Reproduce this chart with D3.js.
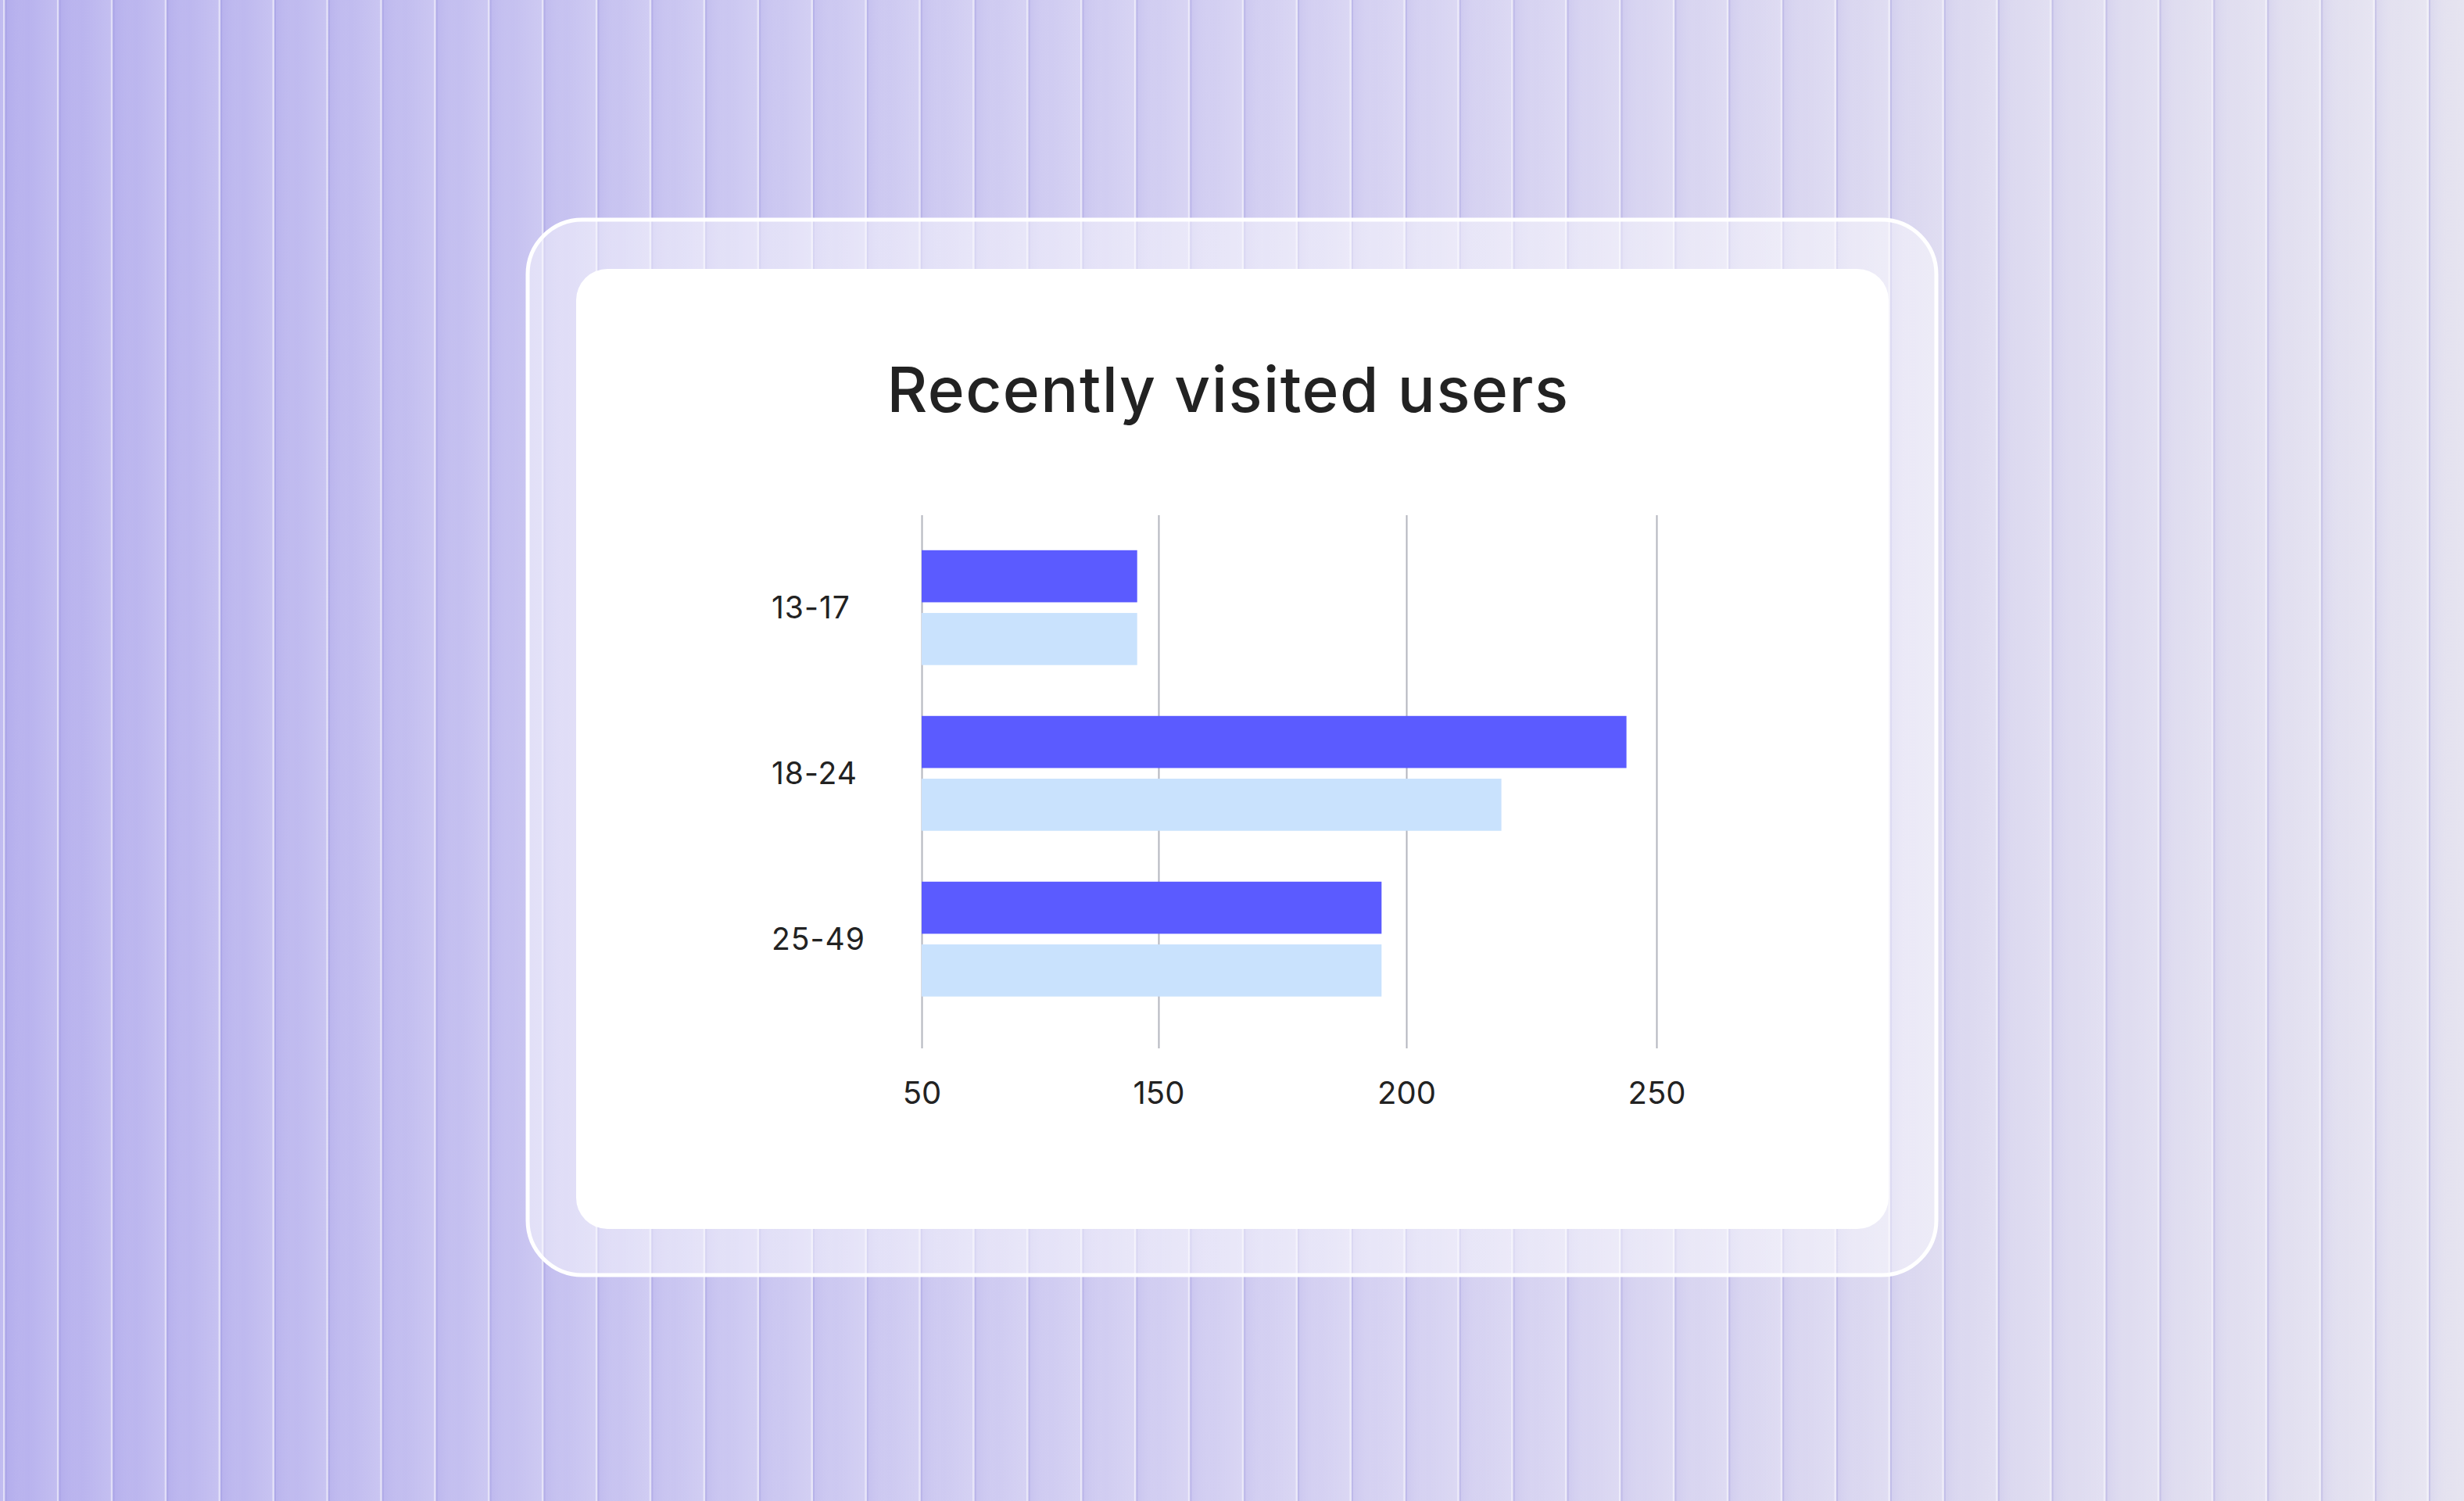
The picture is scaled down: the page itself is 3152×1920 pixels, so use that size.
<!DOCTYPE html>
<html>
<head>
<meta charset="utf-8">
<script src="https://cdn.jsdelivr.net/npm/d3@7"></script>
<style>
  html, body { margin: 0; padding: 0; background: #d3cff0; }
  svg { display: block; }
  text { font-family: Inter, "Noto Sans", sans-serif; fill: #222; }
</style>
</head>
<body>
<div id="chart-area"></div>
<script>
// chart data
const chartTitle = "Recently visited users";
const ageGroups = ["13-17", "18-24", "25-49"];
const seriesNames = ["Series 1", "Series 2"];
const series1Values = [141, 244, 195];
const series2Values = [141, 219, 195];
const tickValues = [50, 150, 200, 250];
const tickLabels = ["50", "150", "200", "250"];

const W = 3152, H = 1920;
const colors = { "Series 1": "#5b5bff", "Series 2": "#c9e2fd" };

const svg = d3.select("#chart-area")
	.append("svg")
	.attr("width", W)
	.attr("height", H);

const defs = svg.append("defs");

// background: lavender wash with vertical ribbed stripes
const bg = defs.append("linearGradient").attr("id", "bg")
	.attr("x1", 0).attr("x2", 1).attr("y1", 0).attr("y2", 0);
bg.selectAll("stop")
	.data([[0, "#b8b2ee"], [0.3, "#cbc7f1"], [0.55, "#d5d1f2"], [0.8, "#dcd9f0"], [1, "#e5e3f0"]])
	.join("stop")
	.attr("offset", d => d[0])
	.attr("stop-color", d => d[1]);

const stripeGrad = defs.append("linearGradient").attr("id", "stripe")
	.attr("x1", 0).attr("x2", 1).attr("y1", 0).attr("y2", 0);
stripeGrad.selectAll("stop")
	.data([[0, "#6f64d6", 0.10], [0.45, "#ffffff", 0.0], [1, "#ffffff", 0.14]])
	.join("stop")
	.attr("offset", d => d[0])
	.attr("stop-color", d => d[1])
	.attr("stop-opacity", d => d[2]);

svg.append("rect").attr("width", W).attr("height", H).attr("fill", "url(#bg)");

const stripeW = 68.9;
const stripes = svg.append("g");
d3.range(-1, 46).forEach(i => {
	const sx = 5 + i * stripeW;
	stripes.append("rect")
		.attr("x", sx).attr("y", 0)
		.attr("width", stripeW).attr("height", H)
		.attr("fill", "url(#stripe)");
	stripes.append("rect")
		.attr("x", sx - 1).attr("y", 0)
		.attr("width", 2.5).attr("height", H)
		.attr("fill", "#ffffff").attr("opacity", 0.55);
	stripes.append("rect")
		.attr("x", sx + 1.5).attr("y", 0)
		.attr("width", 2).attr("height", H)
		.attr("fill", "#8a82d6").attr("opacity", 0.22);
});

// glass frame and card
svg.append("rect")
	.attr("x", 675).attr("y", 281)
	.attr("width", 1802).attr("height", 1350)
	.attr("rx", 70)
	.attr("fill", "#ffffff").attr("fill-opacity", 0.45)
	.attr("stroke", "#ffffff").attr("stroke-width", 5);

svg.append("rect")
	.attr("x", 737).attr("y", 344)
	.attr("width", 1679).attr("height", 1228)
	.attr("rx", 40)
	.attr("fill", "#ffffff");

svg.append("text")
	.attr("x", 1571).attr("y", 527)
	.attr("text-anchor", "middle")
	.attr("font-size", "80px")
	.attr("font-weight", 500)
	.attr("letter-spacing", "1.5px")
	.attr("fill", "#1e1e1e")
	.text(chartTitle);

// plot
const plotLeft = 1179, plotRight = 2119, plotTop = 659, plotBottom = 1341;
const tickFrac = [0, 0.3223, 0.6596, 1];

const x = d3.scaleLinear()
	.domain(tickValues)
	.range(tickFrac.map(f => plotLeft + f * (plotRight - plotLeft)));

const y = d3.scaleBand()
	.domain(ageGroups)
	.range([672, 1306.5])
	.paddingInner(0.307)
	.paddingOuter(0.15);

const ySub = d3.scaleBand()
	.domain(seriesNames)
	.range([0, y.bandwidth()])
	.paddingInner(0.17);

const g = svg.append("g");

const xAxis = g.append("g")
	.attr("class", "x axis")
	.attr("transform", `translate(0, ${plotBottom})`)
	.call(d3.axisBottom(x)
		.tickValues(tickValues)
		.tickSize(-(plotBottom - plotTop))
		.tickPadding(43)
		.tickFormat((d, i) => tickLabels[i]));

xAxis.select(".domain").remove();
xAxis.selectAll(".tick line")
	.attr("stroke", "#b3b5be")
	.attr("stroke-width", 2);
xAxis.selectAll(".tick text")
	.attr("font-size", "40px")
	.attr("font-family", "Inter, sans-serif")
	.attr("fill", "#222");

const rows = ageGroups.map((a, i) => ({
	age: a,
	values: [
		{ name: seriesNames[0], value: series1Values[i] },
		{ name: seriesNames[1], value: series2Values[i] }
	]
}));

const groups = g.selectAll(".group")
	.data(rows)
	.join("g")
	.attr("class", "group")
	.attr("transform", d => `translate(0, ${y(d.age)})`);

groups.selectAll("rect")
	.data(d => d.values)
	.join("rect")
	.attr("x", x(tickValues[0]))
	.attr("y", d => ySub(d.name))
	.attr("width", d => x(d.value) - x(tickValues[0]))
	.attr("height", ySub.bandwidth())
	.attr("fill", d => colors[d.name]);

g.selectAll(".cat-label")
	.data(ageGroups)
	.join("text")
	.attr("class", "cat-label")
	.attr("x", 987)
	.attr("y", d => y(d) + y.bandwidth() / 2)
	.attr("dy", "0.36em")
	.attr("font-size", "39px")
	.attr("letter-spacing", "1px")
	.attr("fill", "#222")
	.text(d => d);
</script>
</body>
</html>
